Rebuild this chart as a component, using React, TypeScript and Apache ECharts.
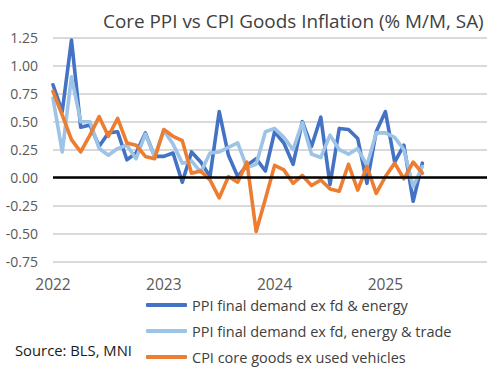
import React, { useEffect, useRef } from "react";
import * as echarts from "echarts";

const years = ["2022", "2023", "2024", "2025"];
const monthCodes = ["01", "02", "03", "04", "05", "06", "07", "08", "09", "10", "11", "12"];
const categories: string[] = [];
years.forEach((y) => monthCodes.forEach((m) => categories.push(`${y}-${m}`)));

const yTicks = { min: -0.75, max: 1.25, interval: 0.25 };

const ppiCore = [
  0.83, 0.59, 1.23, 0.45, 0.47, 0.28, 0.40, 0.41, 0.16, 0.22, 0.40, 0.19,
  0.19, 0.22, -0.04, 0.23, 0.14, 0.01, 0.59, 0.20, 0.01, 0.11, 0.17, 0.06,
  0.41, 0.31, 0.12, 0.50, 0.28, 0.54, -0.06, 0.44, 0.43, 0.35, -0.05, 0.41,
  0.59, 0.14, 0.29, -0.21, 0.13,
];
const ppiExTrade = [
  0.71, 0.23, 0.90, 0.50, 0.50, 0.26, 0.20, 0.26, 0.29, 0.17, 0.39, 0.19,
  0.42, 0.30, 0.13, 0.15, 0.05, 0.22, 0.23, 0.27, 0.31, 0.09, 0.12, 0.41,
  0.44, 0.36, 0.25, 0.49, 0.21, 0.18, 0.38, 0.25, 0.21, 0.26, 0.11, 0.40,
  0.40, 0.36, 0.25, -0.08, 0.10,
];
const cpiGoods = [
  0.77, 0.56, 0.34, 0.23, 0.38, 0.545, 0.37, 0.53, 0.31, 0.29, 0.19, 0.17,
  0.43, 0.37, 0.33, 0.04, 0.06, -0.02, -0.18, 0.01, -0.04, 0.14, -0.48, -0.19,
  0.11, 0.07, -0.05, 0.02, -0.07, -0.02, -0.10, -0.12, 0.12, -0.11, 0.10, -0.14,
  0.01, 0.13, -0.01, 0.14, 0.04,
];

const seriesNames = [
  "PPI final demand ex fd & energy",
  "PPI final demand ex fd, energy & trade",
  "CPI core goods ex used vehicles",
];
const seriesColors = ["#4472C4", "#9DC3E6", "#ED7D31"];
const titleText = "Core PPI vs CPI Goods Inflation (% M/M, SA)";
const sourceText = "Source: BLS, MNI";

const FONT = "'Open Sans', sans-serif";

export default function App() {
  const ref = useRef<HTMLDivElement>(null);
  useEffect(() => {
    if (!ref.current) return;
    const chart = echarts.init(ref.current, undefined, { renderer: "svg" });
    const data = [ppiCore, ppiExTrade, cpiGoods];
    chart.setOption({
      animation: false,
      backgroundColor: "#ffffff",
      textStyle: { fontFamily: FONT },
      title: {
        text: titleText,
        left: 103,
        top: 8,
        padding: 0,
        textStyle: { fontSize: 18.9, fontWeight: "normal", color: "#404040", fontFamily: FONT, lineHeight: 26 },
      },
      grid: {
        left: 53,
        right: 14,
        top: 37.7,
        bottom: 107.3,
        containLabel: false,
        outerBoundsMode: "none",
      },
      legend: {
        orient: "vertical",
        left: 146,
        top: 296,
        padding: 0,
        itemWidth: 41,
        itemHeight: 4,
        itemGap: 8,
        icon: "roundRect",
        data: seriesNames,
        textStyle: { fontSize: 14.5, color: "#404040", lineHeight: 18, fontFamily: FONT },
      },
      xAxis: {
        type: "category",
        data: categories,
        boundaryGap: false,
        axisLine: { show: false },
        axisTick: { show: false },
        axisLabel: {
          interval: 0,
          margin: 14,
          fontSize: 15.5,
          color: "#595959",
          fontFamily: FONT,
          formatter: (v: string) => (v.endsWith("-01") ? v.slice(0, 4) : ""),
        },
        splitLine: { show: false },
      },
      yAxis: {
        type: "value",
        min: yTicks.min,
        max: yTicks.max,
        interval: yTicks.interval,
        axisLine: { show: false },
        axisTick: { show: false },
        axisLabel: {
          margin: 15,
          fontSize: 14,
          color: "#595959",
          fontFamily: FONT,
          formatter: (v: number) => v.toFixed(2),
        },
        splitLine: { show: true, lineStyle: { color: "#d9d9d9", width: 1.8 } },
      },
      series: seriesNames.map((name, i) => ({
        name,
        type: "line",
        data: data[i],
        showSymbol: false,
        symbol: "none",
        z: 2 + i,
        lineStyle: { color: seriesColors[i], width: 3.6, cap: "round", join: "round" },
        itemStyle: { color: seriesColors[i] },
        markLine:
          i === 0
            ? {
                silent: true,
                symbol: "none",
                label: { show: false },
                lineStyle: { color: "#000000", width: 2.5, type: "solid" },
                data: [{ yAxis: 0 }],
              }
            : undefined,
      })),
      graphic: [
        {
          type: "text",
          left: 15,
          top: 342,
          style: { text: sourceText, fontSize: 14.8, fill: "#1a1a1a", fontFamily: FONT },
        },
      ],
    });
    return () => chart.dispose();
  }, []);
  return (
    <div
      ref={ref}
      style={{ position: "fixed", left: 0, top: 0, width: 501, height: 369 }}
    />
  );
}
